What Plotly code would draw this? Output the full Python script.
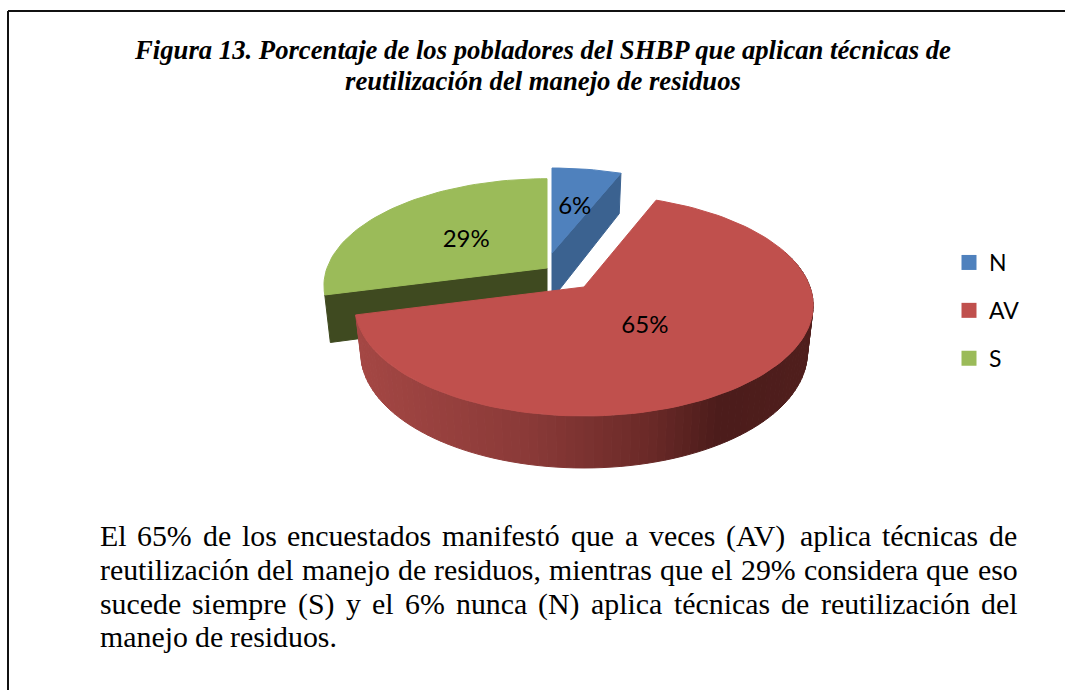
import math
import plotly.graph_objects as go

# ---- data ----
categories = ["N", "AV", "S"]
values = [6, 65, 29]
colors_top = ["#4f81bd", "#c0504d", "#9bbb59"]
colors_cut = ["#3b6290", "#c0504d", "#3f4a20"]

title_lines = ["Figura 13. Porcentaje de los pobladores del SHBP que aplican técnicas de",
               "reutilización del manejo de residuos"]
body_lines = ["El 65% de los encuestados manifestó que a veces (AV) aplica técnicas de",
              "reutilización del manejo de residuos, mientras que el 29% considera que eso",
              "sucede siempre (S) y el 6% nunca (N) aplica técnicas de reutilización del",
              "manejo de residuos."]

# ---- style / projection constants (pixel-like axis units) ----
W, H = 1065, 690
PERSP = 0.165
apex = {"N": (552, 253), "AV": (584, 287), "S": (547, 268)}
radius = {"N": (216, 99), "AV": (226, 107.7), "S": (220, 104)}
label_frac = {"N": 0.5, "AV": 0.43, "S": 0.45}
label_nudge = {"N": (4, 0), "AV": (-7, 3), "S": (-6, 0)}
wall_stops = [(360, (164, 71, 68)), (530, (138, 58, 56)), (650, (107, 42, 40)),
              (720, (76, 28, 27)), (810, (80, 31, 29))]


def project(cat, deg, f=1.0):
    cx, cy = apex[cat]
    R, A = radius[cat]
    u, v = f * math.sin(math.radians(deg)), f * math.cos(math.radians(deg))
    d = 1 + PERSP * v
    return cx + R * u / d, cy - A * v / d


def lower(cat, deg, f=1.0):
    """Bottom of the pie's side wall under a top-surface point."""
    cx, cy = apex[cat]
    x, y = project(cat, deg, f)
    v = f * math.cos(math.radians(deg))
    return cx + (x - cx) * 0.975, y + 46 - 6 * v


def wall_color(x):
    if x <= wall_stops[0][0]:
        return "rgb%s" % (wall_stops[0][1],)
    for (x0, c0), (x1, c1) in zip(wall_stops, wall_stops[1:]):
        if x <= x1:
            t = (x - x0) / (x1 - x0)
            return "rgb(%d,%d,%d)" % tuple(a + (b - a) * t for a, b in zip(c0, c1))
    return "rgb%s" % (wall_stops[-1][1],)


def poly(xs, ys, color, line=None):
    return go.Scatter(x=list(xs) + [xs[0]], y=list(ys) + [ys[0]], mode="lines", fill="toself",
                      fillcolor=color, line=dict(color=line or color, width=1 if line else 0),
                      hoverinfo="skip", showlegend=False)


# slice angles from the values
total = sum(values)
angles = {}
acc = 0.0
for c, val in zip(categories, values):
    angles[c] = (acc * 360 / total, (acc + val) * 360 / total)
    acc += val

col = dict(zip(categories, colors_top))
cut = dict(zip(categories, colors_cut))
fig = go.Figure()


def cut_face(cat, deg):
    ax, ay = apex[cat]
    px, py = project(cat, deg)
    lx, ly = lower(cat, deg)
    ax2, ay2 = lower(cat, deg, 0.0)
    fig.add_trace(poly([ax, px, lx, ax2], [ay, py, ly, ay2], cut[cat], cut[cat]))


def top_face(cat):
    a0, a1 = angles[cat]
    n = max(8, int((a1 - a0) / 2))
    pts = [project(cat, a0 + (a1 - a0) * i / n) for i in range(n + 1)]
    xs = [apex[cat][0]] + [p[0] for p in pts]
    ys = [apex[cat][1]] + [p[1] for p in pts]
    fig.add_trace(poly(xs, ys, col[cat], col[cat]))


# back to front: green, blue, red
cut_face("S", angles["S"][0])
top_face("S")
cut_face("N", angles["N"][1])
top_face("N")

a0, a1 = angles["AV"]
step = 2.0
d = 70.0
while d < a1 - 1e-6:
    e = min(d + step, a1)
    p0, p1 = project("AV", d), project("AV", e)
    q1, q0 = lower("AV", e), lower("AV", d)
    c = wall_color((p0[0] + p1[0]) / 2)
    fig.add_trace(poly([p0[0], p1[0], q1[0], q0[0]], [p0[1], p1[1], q1[1], q0[1]], c, c))
    d = e
top_face("AV")

# data labels
lx, ly, lt = [], [], []
for c, val in zip(categories, values):
    m = sum(angles[c]) / 2
    x, y = project(c, m, label_frac[c])
    lx.append(x + label_nudge[c][0]); ly.append(y + label_nudge[c][1]); lt.append(f"{val}%")
fig.add_trace(go.Scatter(x=lx, y=ly, text=lt, mode="text", hoverinfo="skip", showlegend=False,
                         textposition="middle center",
                         textfont=dict(family="Lato", size=24, color="#000000")))

# legend entries
for c in categories:
    fig.add_trace(go.Scatter(x=[None], y=[None], mode="markers", name=c, legendgroup=c,
                             marker=dict(symbol="square", size=15, color=col[c])))

# justified body text, word by word, using Times metrics
TIMES = {" ": 250, "%": 833, "(": 333, ")": 333, ",": 250, ".": 250, "A": 722, "E": 611, "N": 722,
         "S": 556, "V": 722, "a": 444, "c": 444, "d": 500, "e": 444, "f": 333, "g": 500, "h": 500,
         "i": 278, "j": 278, "l": 278, "m": 778, "n": 500, "o": 500, "p": 500, "q": 500, "r": 333,
         "s": 389, "t": 278, "u": 500, "v": 500, "y": 500, "z": 444, "á": 444, "é": 444, "í": 278,
         "ó": 500, "ú": 500}
BODY_SIZE = 29.85
BODY_LEFT, BODY_RIGHT = 98.5, 1016.5
BODY_Y = [535.5, 569.5, 603.5, 636.5]


def wwidth(w):
    return sum(TIMES.get(ch, 500) for ch in w) * BODY_SIZE / 1000


annotations = []
for i, (line, y) in enumerate(zip(body_lines, BODY_Y)):
    words = line.split(" ")
    widths = [wwidth(w) for w in words]
    if i < len(body_lines) - 1:
        gap = (BODY_RIGHT - BODY_LEFT - sum(widths)) / (len(words) - 1)
    else:
        gap = TIMES[" "] * BODY_SIZE / 1000
    x = BODY_LEFT
    for w, wd in zip(words, widths):
        annotations.append(dict(x=x, y=y, xref="x", yref="y", text=w, showarrow=False,
                                xanchor="left", yanchor="middle", borderpad=0,
                                font=dict(family="Liberation Serif", size=BODY_SIZE, color="#000000")))
        x += wd + gap

for line, y in zip(title_lines, [50, 81]):
    annotations.append(dict(x=542.5, y=y, xref="x", yref="y", text="<b><i>" + line + "</i></b>",
                            showarrow=False, xanchor="center", yanchor="middle",
                            font=dict(family="Liberation Serif", size=26.7, color="#000000")))

fig.update_layout(
    width=W, height=H, autosize=False,
    margin=dict(l=0, r=0, t=0, b=0),
    paper_bgcolor="#ffffff", plot_bgcolor="#ffffff",
    xaxis=dict(range=[0, W], visible=False, fixedrange=True),
    yaxis=dict(range=[H, 0], visible=False, fixedrange=True),
    legend=dict(x=949 / W, xanchor="left", y=1 - 241 / H, yanchor="top", traceorder="grouped",
                tracegroupgap=15, itemwidth=30, bgcolor="rgba(0,0,0,0)",
                font=dict(family="Lato", size=23, color="#000000")),
    annotations=annotations,
    shapes=[dict(type="line", xref="x", yref="y", x0=8, x1=8, y0=11, y1=690,
                 line=dict(color="#111111", width=2)),
            dict(type="line", xref="x", yref="y", x0=8, x1=1065, y0=11, y1=11,
                 line=dict(color="#111111", width=2))],
)
fig.write_html("out.html", config={"displayModeBar": False},
               post_script="document.body.style.margin='0';document.body.style.overflow='hidden';")
